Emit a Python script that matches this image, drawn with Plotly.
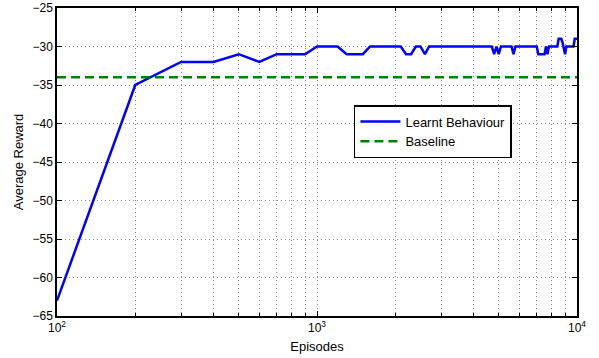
import plotly.graph_objects as go

# Training curve: average reward per evaluation point (every 100 episodes)
episodes = list(range(100, 10001, 100))
learnt_reward = [
    -63, -35, -32, -32, -31, -32, -31, -31, -31, -30,   # 100 - 1000
    -30, -30, -31, -31, -31, -30, -30, -30, -30, -30,   # 1100 - 2000
    -30, -31, -31, -30, -30, -31, -30, -30, -30, -30,   # 2100 - 3000
    -30, -30, -30, -30, -30, -30, -30, -30, -30, -30,   # 3100 - 4000
    -30, -30, -30, -30, -30, -30, -30, -31, -30, -31,   # 4100 - 5000
    -30, -30, -30, -30, -30, -30, -31, -30, -30, -30,   # 5100 - 6000
    -30, -30, -30, -30, -30, -30, -30, -30, -30, -30,   # 6100 - 7000
    -31, -31, -31, -31, -31, -30, -31, -30, -30, -30,   # 7100 - 8000
    -30, -30, -30, -30, -29, -29, -29, -29.5, -30.3, -31,  # 8100 - 9000
    -30, -30, -30, -30, -30, -30, -30, -29, -29, -29,   # 9100 - 10000
]
baseline_reward = -34

x_tick_vals = [100, 1000, 10000]
x_tick_text = ["10<sup>2</sup>", "10<sup>3</sup>", "10<sup>4</sup>"]
x_minor_vals = [m * d for d in (100, 1000) for m in range(2, 10)]
y_tick_vals = [-65, -60, -55, -50, -45, -40, -35, -30, -25]

font_family = "Liberation Sans, Arial, sans-serif"
grid_style = dict(showgrid=True, gridcolor="#8c8c8c", griddash="1px,3px", gridwidth=1)

fig = go.Figure()
fig.add_trace(go.Scatter(
    x=episodes, y=learnt_reward, mode="lines", name="Learnt Behaviour",
    line=dict(color="#0000ff", width=2.5),
))
fig.add_trace(go.Scatter(
    x=[episodes[0], episodes[-1]], y=[baseline_reward, baseline_reward],
    mode="lines", name="Baseline",
    line=dict(color="#008000", width=2.5, dash="9px,5px"),
))

fig.update_layout(
    width=599, height=358,
    margin=dict(l=57, r=22, t=8, b=42, autoexpand=False),
    paper_bgcolor="white", plot_bgcolor="white",
    font=dict(family=font_family, size=12, color="#222"),
    showlegend=True,
    legend=dict(
        x=0.571, y=0.685, xanchor="left", yanchor="top",
        bgcolor="white", bordercolor="black", borderwidth=1.5,
        font=dict(size=13, color="black"),
        tracegroupgap=0, itemwidth=40,
    ),
)

fig.update_xaxes(
    type="log", range=[2, 4], automargin=False,
    tickvals=x_tick_vals, ticktext=x_tick_text,
    ticks="inside", ticklen=5, tickcolor="black",
    showline=True, linecolor="black", linewidth=1.5, mirror="ticks",
    zeroline=False,
    minor=dict(tickvals=x_minor_vals, ticks="inside", ticklen=3,
               tickcolor="black", **grid_style),
    title=dict(text="Episodes", font=dict(size=13, color="black"), standoff=8),
    tickfont=dict(size=12, color="black"),
    **grid_style,
)
fig.update_yaxes(
    range=[-65, -25], tickvals=y_tick_vals, automargin=False,
    ticks="inside", ticklen=5, tickcolor="black",
    showline=True, linecolor="black", linewidth=1.5, mirror="ticks",
    zeroline=False,
    title=dict(text="Average Reward", font=dict(size=13, color="black"), standoff=6),
    tickfont=dict(size=12, color="black"),
    **grid_style,
)

fig.write_html("out.html")
